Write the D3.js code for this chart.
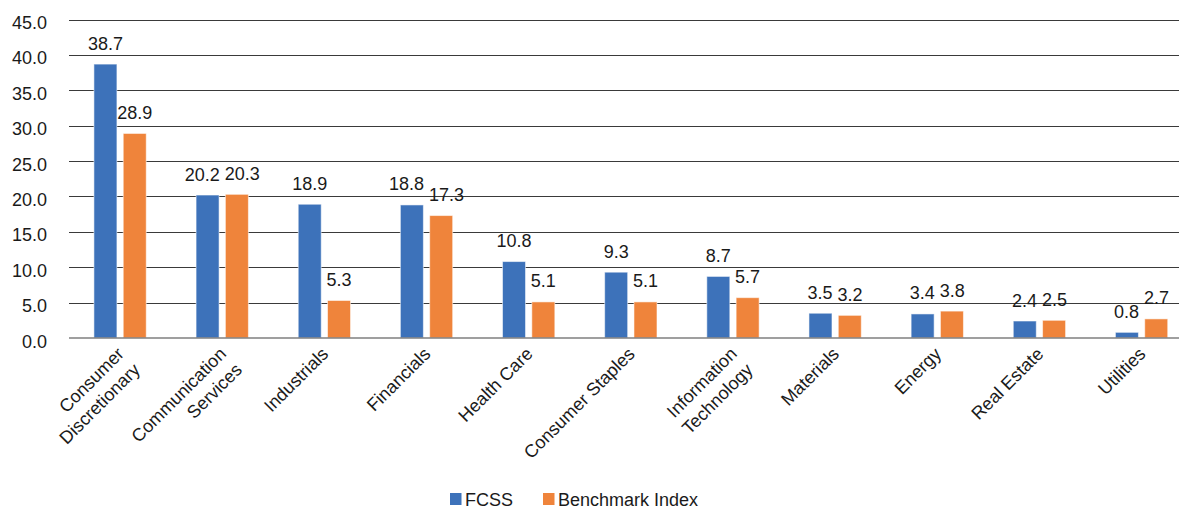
<!DOCTYPE html>
<html>
<head>
<meta charset="utf-8">
<script src="https://cdn.jsdelivr.net/npm/d3@7"></script>
<style>
  html, body { margin: 0; padding: 0; background: #fff; overflow: hidden; }
  svg text { font-family: "Liberation Sans", Arial, sans-serif; fill: #1a1a1a; }
</style>
</head>
<body>
<svg id="chart" width="1179" height="510"></svg>
<script>
const categories = ["Consumer\nDiscretionary", "Communication\nServices", "Industrials", "Financials",
  "Health Care", "Consumer Staples", "Information\nTechnology", "Materials", "Energy", "Real Estate", "Utilities"];
const seriesNames = ["FCSS", "Benchmark Index"];
const fcssValues = [38.7, 20.2, 18.9, 18.8, 10.8, 9.3, 8.7, 3.5, 3.4, 2.4, 0.8];
const benchmarkValues = [28.9, 20.3, 5.3, 17.3, 5.1, 5.1, 5.7, 3.2, 3.8, 2.5, 2.7];
const yTicks = [0, 5, 10, 15, 20, 25, 30, 35, 40, 45];

const colors = { "FCSS": "#3d72ba", "Benchmark Index": "#ef843b" };
const svg = d3.select("#chart");
const W = 1179;
const left = 69, bandW = 102.15;
const fontSize = 18;

const x0 = d3.scaleBand().domain(categories).range([left, left + bandW * categories.length]).padding(0);
const x1 = d3.scaleBand().domain(seriesNames).range([0, x0.bandwidth()]).paddingInner(0.215).paddingOuter(0.85);
const y = d3.scaleLinear().domain([0, 45]).range([338, 19.5]);

// gridlines
svg.append("g").selectAll("line").data(yTicks.filter(t => t > 0)).join("line")
  .attr("x1", left).attr("x2", W)
  .attr("y1", d => Math.round(y(d)) + 0.5).attr("y2", d => Math.round(y(d)) + 0.5)
  .attr("stroke", "#3a3a3a").attr("stroke-width", 1);

// y labels
svg.append("g").selectAll("text").data(yTicks).join("text")
  .attr("x", 47).attr("y", d => y(d) + 9.5)
  .attr("text-anchor", "end").attr("font-size", fontSize)
  .text(d => d3.format(".1f")(d));

// bars
const rows = categories.map((c, i) => ({ cat: c, vals: [
  { s: "FCSS", v: fcssValues[i] }, { s: "Benchmark Index", v: benchmarkValues[i] }] }));

const groups = svg.append("g").selectAll("g").data(rows).join("g")
  .attr("transform", d => `translate(${x0(d.cat)},0)`);
groups.selectAll("rect").data(d => d.vals).join("rect")
  .attr("x", d => x1(d.s)).attr("width", x1.bandwidth())
  .attr("y", d => y(d.v)).attr("height", d => y(0) - y(d.v))
  .attr("fill", d => colors[d.s])
  .attr("stroke", "#ffffff").attr("stroke-opacity", 0.55).attr("stroke-width", 1);

// axis baseline
svg.append("line").attr("x1", left).attr("x2", W).attr("y1", y(0)).attr("y2", y(0))
  .attr("stroke", "#7f7f7f").attr("stroke-width", 1.5);

// value labels with simple collision avoidance
groups.each(function(d) {
  const g = d3.select(this);
  const labels = d.vals.map(v => {
    const t = g.append("text").attr("font-size", fontSize).attr("text-anchor", "middle")
      .attr("y", y(v.v) - 14.5).text(d3.format(".1f")(v.v));
    return { t, cx: x1(v.s) + x1.bandwidth() / 2, w: t.node().getComputedTextLength(), yy: y(v.v) };
  });
  const [a, b] = labels;
  const gap = 5;
  if (Math.abs(a.yy - b.yy) < 14) {
    const overlap = (a.w / 2 + b.w / 2 + gap) - (b.cx - a.cx);
    if (overlap > 0) { a.cx -= overlap / 2; b.cx += overlap / 2; }
  }
  labels.forEach(l => l.t.attr("x", l.cx));
});

// category labels
const xl = svg.append("g").selectAll("text").data(categories).join("text")
  .attr("font-size", fontSize).attr("text-anchor", "end")
  .attr("transform", d => `translate(${x0(d) + x0.bandwidth() / 2 - 4},346) rotate(-45)`);
xl.each(function(d) {
  const t = d3.select(this);
  d.split("\n").forEach((line, i) => {
    t.append("tspan").attr("x", 0).attr("dy", i === 0 ? "0.71em" : "1.25em").text(line);
  });
});

// legend
const legendItems = [{ s: "FCSS", x: 450 }, { s: "Benchmark Index", x: 543 }];
const lg = svg.append("g").selectAll("g").data(legendItems).join("g")
  .attr("transform", d => `translate(${d.x},493)`);
lg.append("rect").attr("width", 11.5).attr("height", 12).attr("fill", d => colors[d.s]);
lg.append("text").attr("x", 15).attr("y", 12.5).attr("font-size", fontSize).text(d => d.s);
</script>
</body>
</html>
